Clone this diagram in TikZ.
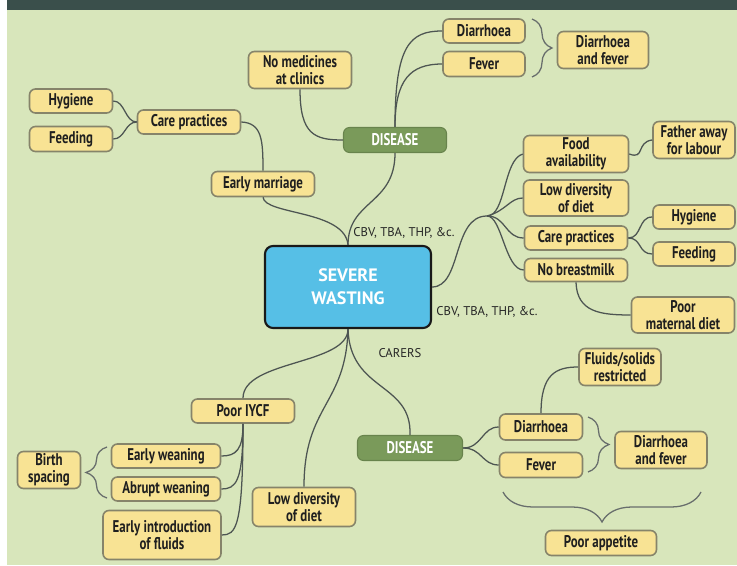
\documentclass[tikz,border=0pt]{standalone}
\usepackage{fontspec}
\setmainfont{PT Sans}
\newfontfamily\boxfont{PT Sans}[FakeStretch=0.76]
\usetikzlibrary{decorations.pathreplacing}

\definecolor{bgGreen}{HTML}{D8E6BB}
\definecolor{bandCol}{HTML}{3A4F4B}
\definecolor{boxFill}{HTML}{F8E394}
\definecolor{boxLine}{HTML}{86846A}
\definecolor{linkCol}{HTML}{4D5552}
\definecolor{disFill}{HTML}{7A9A5A}
\definecolor{swFill}{HTML}{56BFE6}

\tikzset{
  bw/.style={minimum width=#1*0.75pt},
  bh/.style={minimum height=#1*0.75pt},
  ybox/.style={draw=boxLine, fill=boxFill, line width=1.2pt, rounded corners=4.5pt,
    align=center, inner sep=0pt, text=black!88,
    font=\boxfont\bfseries\fontsize{12.7}{12.6}\selectfont},
  gbox/.style={draw=disFill!85!black, fill=disFill, line width=0.8pt, rounded corners=4.5pt,
    align=center, inner sep=0pt, text=white,
    font=\boxfont\bfseries\fontsize{12.7}{12.6}\selectfont},
  core/.style={draw=black!90, fill=swFill, line width=1.6pt, rounded corners=6pt,
    align=center, inner sep=0pt, text=white,
    font=\bfseries\fontsize{13.5}{17.5}\selectfont},
  lab/.style={inner sep=0pt, text=black!85, font=\fontsize{9.5}{11}\selectfont},
  link/.style={draw=linkCol, line width=0.95pt},
  bracket/.style={draw=linkCol!85, line width=0.95pt, decorate,
    decoration={brace, amplitude=#1*0.75pt}},
}

\begin{document}
\begin{tikzpicture}[x=0.75pt, y=-0.75pt]
\useasboundingbox (0,0) rectangle (737,566);
\fill[white] (0,0) rectangle (737,566);
\fill[bgGreen] (7,10.5) rectangle (737,564.5);
\fill[bandCol] (7,0) rectangle (737,10.5);

% ---- centre
\node[core, bw=166, bh=82] (sw) at (348,287) {SEVERE\\WASTING};

% ---- upper left branch
\node[ybox, bw=103, bh=25] (marr) at (263,184) {Early marriage};
\node[ybox, bw=103, bh=24] (care1) at (189,122) {Care practices};
\node[ybox, bw=83, bh=24] (hyg1) at (71,101) {Hygiene};
\node[ybox, bw=83, bh=25] (fee1) at (71,139) {Feeding};

% ---- upper disease branch
\node[gbox, bw=103, bh=25] (dis1) at (395,140) {DISEASE};
\node[ybox, bw=103, bh=37] (nomed) at (300,70) {No medicines\\at clinics};
\node[ybox, bw=82, bh=24] (dia1) at (484,31) {Diarrhoea};
\node[ybox, bw=82, bh=25] (fev1) at (484,64) {Fever};
\node[ybox, bw=91, bh=37] (df1) at (603,50) {Diarrhoea\\and fever};

% ---- right branch
\coordinate (fan) at (487,216);
\node[ybox, bw=105, bh=37] (food) at (576,154) {Food\\availability};
\node[ybox, bw=82, bh=37] (dad) at (694,140) {Father away\\for labour};
\node[ybox, bw=105, bh=36] (low1) at (576,198) {Low diversity\\of diet};
\node[ybox, bw=103, bh=24] (care2) at (576,238) {Care practices};
\node[ybox, bw=82, bh=24] (hyg2) at (694,217) {Hygiene};
\node[ybox, bw=82, bh=24] (fee2) at (694,254) {Feeding};
\node[ybox, bw=103, bh=23] (milk) at (576,270) {No breastmilk};
\node[ybox, bw=103, bh=36] (mat) at (683,315) {Poor\\maternal diet};

% ---- actor labels
\node[lab] (cbv1) at (404,233) {CBV, TBA, THP, \&c.};
\node[lab] (cbv2) at (487,312) {CBV, TBA, THP, \&c.};
\node[lab] (carers) at (400,353) {CARERS};

% ---- lower left branch
\node[ybox, bw=103, bh=24] (iycf) at (243,411) {Poor IYCF};
\node[ybox, bw=109, bh=24] (ew) at (166,456) {Early weaning};
\node[ybox, bw=109, bh=24] (aw) at (166,489) {Abrupt weaning};
\node[ybox, bw=118, bh=49] (eif) at (162,535) {Early introduction\\of fluids};
\node[ybox, bw=63, bh=37] (birth) at (49,470) {Birth\\spacing};
\node[ybox, bw=103, bh=39] (low2) at (304,507) {Low diversity\\of diet};

% ---- lower disease branch
\node[gbox, bw=105, bh=25] (dis2) at (410,448) {DISEASE};
\node[ybox, bw=83, bh=26] (dia2) at (541,427) {Diarrhoea};
\node[ybox, bw=83, bh=25] (fev2) at (541,465) {Fever};
\node[ybox, bw=82, bh=37] (fluid) at (620,367) {Fluids/solids\\restricted};
\node[ybox, bw=92, bh=37] (df2) at (661,450) {Diarrhoea\\and fever};
\node[ybox, bw=111, bh=25] (app) at (601,543) {Poor appetite};

% ---- connectors
\path[link] (sw.north) .. controls (348,200) and (395,205) .. (dis1.south);
\path[link] (sw.north) .. controls (345,210) and (265,215) .. (marr.south);
\path[link] (marr.north) .. controls (263,140) and (262,123) .. (care1.east);
\path[link] (care1.west) .. controls (125,122) and (125,101) .. (hyg1.east);
\path[link] (care1.west) .. controls (125,122) and (125,139) .. (fee1.east);
\path[link] (nomed.south) .. controls (300,135) and (315,140) .. (dis1.west);
\path[link] (dis1.north) .. controls (395,45) and (410,31) .. (dia1.west);
\path[link] (dis1.north) .. controls (395,80) and (410,64) .. (fev1.west);

\path[link] (sw.east) .. controls (462,287) and (452,216) .. (fan);
\path[link] (fan) .. controls (506,216) and (503,160) .. (food.west);
\path[link] (fan) .. controls (506,211) and (510,198) .. (low1.west);
\path[link] (fan) .. controls (506,216) and (505,238) .. (care2.west);
\path[link] (fan) .. controls (502,216) and (505,270) .. (milk.west);
\path[link] (food.east) .. controls (645,160) and (636,142) .. (dad.west);
\path[link] (care2.east) .. controls (642,238) and (638,217) .. (hyg2.west);
\path[link] (care2.east) .. controls (642,238) and (638,254) .. (fee2.west);
\path[link] (milk.south) .. controls (577,312) and (600,315) .. (mat.west);

\path[link] (sw.south) .. controls (348,365) and (243,360) .. (iycf.north);
\path[link] (sw.south) .. controls (346,405) and (304,405) .. (low2.north);
\path[link] (sw.south) .. controls (350,392) and (412,382) .. (dis2.north);
\path[link] (iycf.south) .. controls (243,450) and (236,456) .. (ew.east);
\path[link] (iycf.south) .. controls (243,482) and (236,489) .. (aw.east);
\path[link] (iycf.south) .. controls (243,528) and (236,535) .. (eif.east);

\path[link] (dis2.east) .. controls (482,448) and (482,427) .. (dia2.west);
\path[link] (dis2.east) .. controls (482,448) and (482,465) .. (fev2.west);
\path[link] (dia2.north) .. controls (541,374) and (556,367) .. (fluid.west);

% ---- braces
\draw[bracket=20] (532,19) -- (532,77);
\draw[bracket=21] (107,498) -- (107,447);
\draw[bracket=21] (588,417) -- (588,472);
\draw[bracket=30] (701,492) -- (503,492);
\end{tikzpicture}
\end{document}
